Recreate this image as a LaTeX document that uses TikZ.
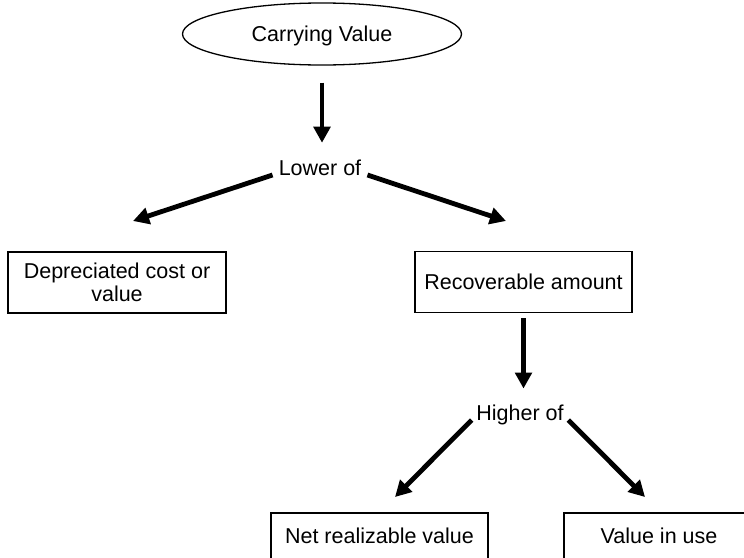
\documentclass[tikz,border=0pt]{standalone}
\usepackage{fontspec}
\setmainfont{Liberation Sans}
\usetikzlibrary{shapes.geometric,arrows.meta}
\begin{document}
\begin{tikzpicture}[x=1pt,y=-1pt,
  every node/.style={font=\fontsize{21.5}{23}\selectfont},
  box/.style={draw, rectangle, line width=1.6pt, minimum height=61pt,
    inner sep=0pt, align=center},
  joiner/.style={anchor=base},
  arr/.style={line width=4.8pt, -{Triangle[length=16pt,width=16.5pt]}}]
  \useasboundingbox (0,0) rectangle (744,557);
  \clip (0,0) rectangle (744,557);

  % top of the chart
  \node[draw, ellipse, line width=1.3pt, minimum width=279pt,
    minimum height=62pt, inner sep=0pt, text depth=0pt] (cv) at (322,34)
    {Carrying Value};
  \node[joiner, inner xsep=6pt, inner ysep=16.5pt] (lower) at (320,175) {Lower of};

  % first comparison
  \node[box, minimum width=218pt] (dep) at (117,282.5) {Depreciated cost or\\value};
  \node[box, minimum width=217pt] (rec) at (523.5,282) {Recoverable amount};

  % second comparison
  \node[joiner, inner xsep=4.5pt, inner ysep=15.7pt] (higher) at (520,420) {Higher of};
  \node[box, minimum width=217pt, minimum height=46pt] (nrv) at (379.5,536)
    {Net realizable value};
  \node[box, minimum width=190pt, minimum height=46pt] (viu) at (659,536)
    {Value in use};

  % free ends of the slanted arrows
  \coordinate (t1) at (133,221);
  \coordinate (t2) at (506,221);
  \coordinate (t3) at (395,497);
  \coordinate (t4) at (645,497);

  % connectors
  \draw[arr, shorten <=17pt] (cv.south) -- (cv.south |- lower.north);
  \draw[arr] (lower.base west) -- (t1);
  \draw[arr] (lower.base east) -- (t2);
  \draw[arr, shorten <=5pt] (rec.south) -- (rec.south |- higher.north);
  \draw[arr] (higher.base west) -- (t3);
  \draw[arr] (higher.base east) -- (t4);
\end{tikzpicture}
\end{document}
